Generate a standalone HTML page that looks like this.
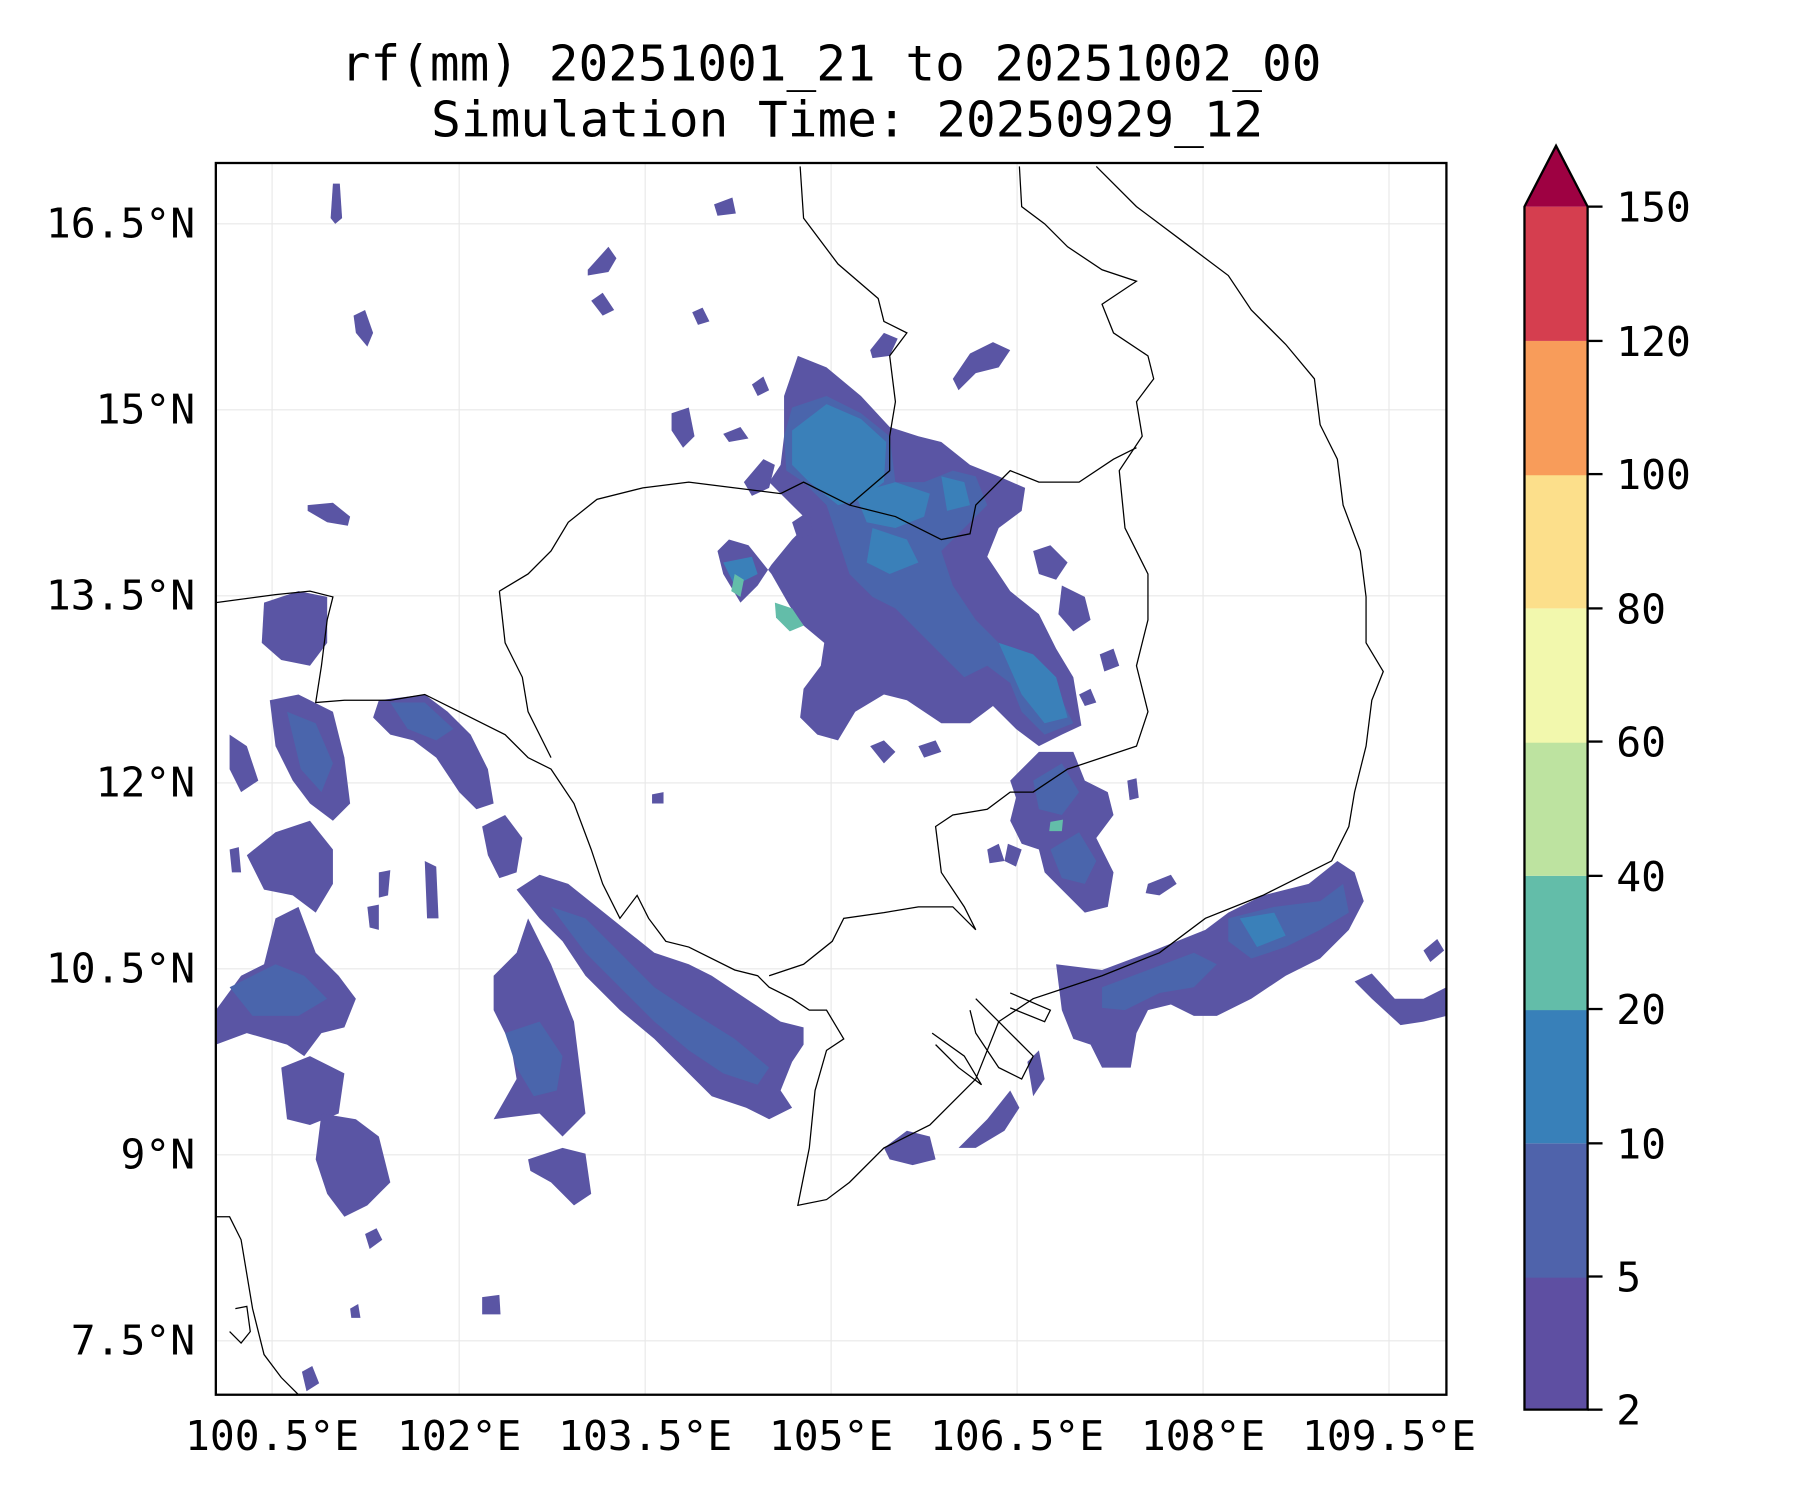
<!DOCTYPE html>
<html><head><meta charset="utf-8"><style>
html,body{margin:0;padding:0;background:#fff}
svg{display:block}
text{font-family:"DejaVu Sans Mono","Liberation Mono",monospace;fill:#000}
</style></head><body>
<svg width="1800" height="1500" viewBox="0 0 1568 1306.7" xmlns="http://www.w3.org/2000/svg">
<rect width="1568" height="1307" fill="#fff"/>
<text x="724" y="70" font-size="43" text-anchor="middle">rf(mm) 20251001_21 to 20251002_00</text>
<text x="738" y="119" font-size="43" text-anchor="middle">Simulation Time: 20250929_12</text>
<defs><clipPath id="c"><rect x="188" y="142" width="1072" height="1073"/></clipPath></defs>
<g stroke="#e8e8e8" stroke-width="1">
<line x1="237" y1="142" x2="237" y2="1215"/><line x1="400" y1="142" x2="400" y2="1215"/><line x1="562" y1="142" x2="562" y2="1215"/><line x1="724" y1="142" x2="724" y2="1215"/><line x1="886" y1="142" x2="886" y2="1215"/><line x1="1048" y1="142" x2="1048" y2="1215"/><line x1="1210" y1="142" x2="1210" y2="1215"/>
<line x1="188" y1="195" x2="1260" y2="195"/><line x1="188" y1="357" x2="1260" y2="357"/><line x1="188" y1="519" x2="1260" y2="519"/><line x1="188" y1="682" x2="1260" y2="682"/><line x1="188" y1="844" x2="1260" y2="844"/><line x1="188" y1="1006" x2="1260" y2="1006"/><line x1="188" y1="1168" x2="1260" y2="1168"/>
</g>
<g clip-path="url(#c)">
<g fill="#5a55a4">
<polygon points="683,345 695,310 720,320 750,345 775,372 800,380 820,385 845,405 870,415 893,425 890,445 870,460 860,485 880,515 905,535 920,565 935,590 942,632 925,640 905,650 885,635 865,615 845,630 820,630 790,610 770,605 745,620 730,645 712,640 697,625 700,600 715,580 718,560 700,545 688,528 672,500 652,475 635,470 625,480 630,500 645,525 660,510 672,492 690,470 705,455 690,440 670,420 680,405 683,380"/>
<polygon points="880,680 905,655 935,655 945,680 965,690 970,710 955,730 970,760 965,790 945,795 930,780 910,760 905,740 890,735 880,715 885,695"/>
<polygon points="920,840 960,845 1000,830 1050,810 1070,795 1100,780 1140,770 1165,750 1180,760 1188,785 1175,810 1150,835 1120,850 1090,870 1060,885 1040,885 1020,875 1000,880 990,900 985,930 960,930 950,910 935,905 925,880"/>
<polygon points="1180,855 1195,848 1215,870 1240,870 1260,860 1260,885 1240,890 1220,893 1195,870"/>
<polygon points="450,775 470,762 495,770 520,790 545,810 570,830 600,840 620,850 650,870 680,890 700,895 700,910 690,925 680,950 690,965 670,975 650,965 620,955 600,935 570,905 540,880 510,850 490,820 470,800"/>
<polygon points="235,610 260,605 290,620 300,660 305,700 290,715 270,700 255,680 240,650"/>
<polygon points="188,880 210,850 230,840 240,800 260,790 275,830 295,850 310,870 300,895 280,900 265,920 250,910 215,900 188,910"/>
<polygon points="215,745 240,725 270,715 290,740 290,770 275,795 255,780 230,775"/>
<polygon points="245,930 270,920 300,935 295,970 270,980 250,975"/>
<polygon points="280,970 310,975 330,990 340,1030 320,1050 300,1060 285,1040 275,1010"/>
<polygon points="230,525 260,515 285,520 285,560 270,580 245,575 228,560"/>
<polygon points="330,610 370,605 390,620 410,640 425,670 430,700 415,705 400,690 380,660 360,645 340,640 325,625"/>
<polygon points="430,850 450,830 460,800 480,840 500,890 505,930 510,970 490,990 470,970 430,975 450,940 445,910 430,880"/>
<polygon points="200,640 215,650 225,680 210,690 200,670"/>
<polygon points="420,720 440,710 455,730 450,760 435,765 425,745"/>
<polygon points="370,750 380,755 382,800 372,800"/>
<polygon points="900,480 915,475 930,490 920,505 905,500"/>
<polygon points="925,510 945,520 950,540 935,550 922,535"/>
<polygon points="860,740 870,735 875,750 862,752"/>
<polygon points="878,735 890,740 885,755 875,750"/>
<polygon points="1000,770 1020,762 1025,770 1010,780 998,778"/>
<polygon points="758,650 770,645 780,655 770,665"/>
<polygon points="800,650 815,645 820,655 805,660"/>
<polygon points="770,1000 790,985 810,990 815,1010 795,1015 775,1010"/>
<polygon points="835,1000 860,975 880,950 888,965 875,985 850,1000"/>
<polygon points="895,925 905,915 910,940 900,955"/>
<polygon points="460,1010 490,1000 510,1005 515,1040 500,1050 480,1030 462,1020"/>
<polygon points="268,440 290,438 305,450 303,458 285,455 268,445"/>
<polygon points="290,160 296,160 298,190 292,195 288,190"/>
<polygon points="308,275 318,270 325,290 320,302 310,290"/>
<polygon points="512,235 530,215 537,225 530,237 512,240"/>
<polygon points="515,262 525,255 535,270 525,275"/>
<polygon points="622,178 638,172 641,186 625,188"/>
<polygon points="603,272 612,268 618,280 608,283"/>
<polygon points="655,335 665,328 670,340 660,345"/>
<polygon points="630,378 645,372 652,382 635,385"/>
<polygon points="758,305 770,290 782,295 775,310 760,312"/>
<polygon points="830,330 845,308 865,298 880,305 870,320 850,325 835,340"/>
<polygon points="648,420 665,400 675,405 670,425 655,432"/>
<polygon points="690,455 705,445 708,465 695,470"/>
<polygon points="585,360 600,355 605,380 595,390 585,375"/>
<polygon points="568,692 578,690 578,700 568,700"/>
<polygon points="318,1075 328,1070 333,1080 322,1088"/>
<polygon points="420,1130 435,1128 436,1145 420,1145"/>
<polygon points="263,1195 272,1190 278,1205 267,1212"/>
<polygon points="305,1140 312,1136 314,1148 306,1148"/>
<polygon points="1240,828 1252,818 1258,828 1246,838"/>
<polygon points="200,740 208,738 210,760 202,760"/>
<polygon points="330,760 340,758 338,780 330,782"/>
<polygon points="320,790 330,788 330,810 322,808"/>
<polygon points="940,605 950,600 955,612 945,615"/>
<polygon points="958,570 970,565 975,580 962,585"/>
<polygon points="982,680 990,678 992,695 984,697"/>
</g>
<g fill="#4a65ac">
<polygon points="683,380 690,355 720,345 750,360 775,380 780,420 805,420 830,410 850,415 860,440 840,460 820,480 830,510 850,540 870,560 900,570 920,600 935,630 910,640 890,620 880,595 860,580 840,590 820,570 800,550 780,530 760,520 740,500 730,470 720,440 700,420 685,410"/>
<polygon points="900,680 925,665 940,690 925,710 905,705"/>
<polygon points="915,740 940,725 955,750 945,770 925,765"/>
<polygon points="960,860 1000,845 1040,830 1060,840 1040,860 1010,865 980,880 960,878"/>
<polygon points="1070,800 1110,790 1150,785 1170,770 1175,795 1150,810 1120,825 1090,835 1070,820"/>
<polygon points="480,790 510,800 540,830 570,860 600,880 640,905 670,930 660,945 630,935 600,915 570,890 540,860 510,830"/>
<polygon points="250,620 275,630 290,665 280,690 262,670"/>
<polygon points="200,860 240,840 265,850 285,870 260,885 220,885"/>
<polygon points="440,900 470,890 490,920 485,950 465,955 450,930"/>
<polygon points="340,612 370,612 395,635 380,645 355,635"/>
</g>
<g fill="#3a80b9">
<polygon points="690,375 720,352 750,365 772,385 770,420 750,435 730,440 705,420 690,405"/>
<polygon points="745,430 780,420 810,430 805,450 780,460 755,455"/>
<polygon points="870,560 900,570 920,590 930,625 910,630 890,605"/>
<polygon points="760,460 790,470 800,490 775,500 755,490"/>
<polygon points="1080,800 1110,795 1120,815 1095,825"/>
<polygon points="820,415 840,420 845,440 825,445"/>
<polygon points="630,490 655,485 660,500 640,510"/>
</g>
<g fill="#63bda9">
<polygon points="640,500 648,505 645,520 637,515"/>
<polygon points="675,525 690,530 700,545 688,550 676,538"/>
<polygon points="915,716 926,714 925,724 914,724"/>
</g>
<g fill="none" stroke="#000" stroke-width="1.1">
<polyline points="955,145 990,180 1030,210 1070,240 1090,270 1120,300 1145,330 1150,370 1165,400 1170,440 1185,480 1190,520 1190,560 1205,585 1195,610 1190,650 1180,690 1175,720 1160,750 1100,780 1050,800 1010,830 960,850 930,860 900,870 870,890 850,940 810,980 770,1000 740,1030 720,1045 695,1050 705,1000 710,950 720,915 735,905 720,880 705,880 690,870 670,860 660,850 640,845 610,830 600,825 580,820 565,800 555,780 540,800 525,770 515,740 500,700 480,670 460,660 440,640 420,630 400,620 370,605 340,610 300,610 275,612 280,580 285,540 290,520 270,515 240,518 188,525"/>
<polyline points="188,1060 200,1060 210,1080 220,1140 230,1180 245,1200 260,1215"/>
<polyline points="205,1140 215,1138 218,1160 210,1170 200,1160"/>
<polyline points="435,515 460,500 480,480 495,455 520,435 560,425 600,420 640,425 680,430 700,420 740,440 780,450 820,470 845,465 850,440 880,410 905,420 940,420 970,400 990,390"/>
<polyline points="888,145 890,180 910,195 930,215 960,235 990,245 960,265 970,290 1000,310 1005,330 990,350 995,380 975,410 980,460 1000,500 1000,540 990,580 1000,620 990,650 960,660 930,670 900,690 880,690 860,705 830,710 815,720 820,760 840,790 850,810 830,790 800,790 770,795 735,800 725,820 700,840 670,850"/>
<polyline points="697,145 700,190 730,230 765,260 770,280 790,290 775,310 780,350 775,380 775,410 740,440"/>
<polyline points="435,515 440,560 455,590 460,620 480,660"/>
<polyline points="850,870 880,900 900,920 890,940 870,930 850,900 845,880"/>
<polyline points="812,900 840,920 855,945 835,930 815,910"/>
<polyline points="880,865 915,880 910,890 880,878"/>
</g>
</g>
<rect x="188" y="142" width="1072" height="1073" fill="none" stroke="#000" stroke-width="2"/>
<g font-size="36">
<text x="237" y="1263" text-anchor="middle">100.5°E</text><text x="400" y="1263" text-anchor="middle">102°E</text><text x="562" y="1263" text-anchor="middle">103.5°E</text><text x="724" y="1263" text-anchor="middle">105°E</text><text x="886" y="1263" text-anchor="middle">106.5°E</text><text x="1048" y="1263" text-anchor="middle">108°E</text><text x="1210" y="1263" text-anchor="middle">109.5°E</text>
<text x="170" y="207" text-anchor="end">16.5°N</text><text x="170" y="369" text-anchor="end">15°N</text><text x="170" y="531" text-anchor="end">13.5°N</text><text x="170" y="694" text-anchor="end">12°N</text><text x="170" y="856" text-anchor="end">10.5°N</text><text x="170" y="1018" text-anchor="end">9°N</text><text x="170" y="1180" text-anchor="end">7.5°N</text>
</g>
<g>
<rect x="1328" y="1112" width="55" height="116" fill="#5e4fa2"/>
<rect x="1328" y="996" width="55" height="117" fill="#4f63ab"/>
<rect x="1328" y="879" width="55" height="117" fill="#3880b9"/>
<rect x="1328" y="763" width="55" height="117" fill="#63bda9"/>
<rect x="1328" y="646" width="55" height="117" fill="#bde3a0"/>
<rect x="1328" y="530" width="55" height="117" fill="#f2f8ad"/>
<rect x="1328" y="413" width="55" height="117" fill="#fcdf8b"/>
<rect x="1328" y="297" width="55" height="117" fill="#f89c5a"/>
<rect x="1328" y="180" width="55" height="117" fill="#d53e4f"/>
<polygon points="1328,180 1355.5,127 1383,180" fill="#9e0142"/>
<polygon points="1328,1228 1328,180 1355.5,127 1383,180 1383,1228" fill="none" stroke="#000" stroke-width="2"/>
<g stroke="#000" stroke-width="2">
<line x1="1383" y1="180" x2="1396" y2="180"/><line x1="1383" y1="297" x2="1396" y2="297"/><line x1="1383" y1="413" x2="1396" y2="413"/><line x1="1383" y1="530" x2="1396" y2="530"/><line x1="1383" y1="646" x2="1396" y2="646"/><line x1="1383" y1="763" x2="1396" y2="763"/><line x1="1383" y1="879" x2="1396" y2="879"/><line x1="1383" y1="996" x2="1396" y2="996"/><line x1="1383" y1="1112" x2="1396" y2="1112"/><line x1="1383" y1="1228" x2="1396" y2="1228"/>
</g>
<g font-size="36">
<text x="1408" y="193">150</text><text x="1408" y="310">120</text><text x="1408" y="426">100</text><text x="1408" y="543">80</text><text x="1408" y="659">60</text><text x="1408" y="776">40</text><text x="1408" y="892">20</text><text x="1408" y="1009">10</text><text x="1408" y="1125">5</text><text x="1408" y="1241">2</text>
</g>
</g>
</svg>
</body></html>
